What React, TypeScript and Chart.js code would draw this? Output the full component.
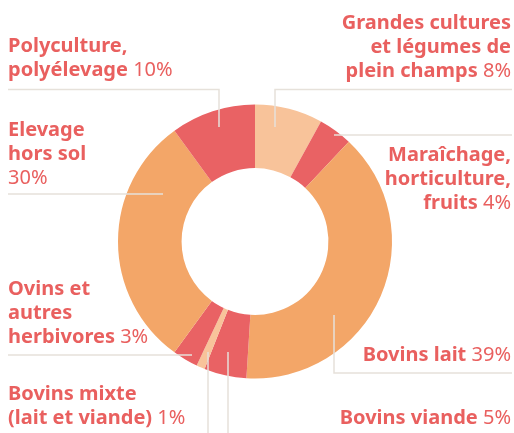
import React, { useEffect, useRef } from "react";
import { Chart, registerables } from "chart.js";

Chart.register(...registerables);

const categories = [
  "Grandes cultures et légumes de plein champs",
  "Maraîchage, horticulture, fruits",
  "Bovins lait",
  "Bovins viande",
  "Bovins mixte (lait et viande)",
  "Ovins et autres herbivores",
  "Elevage hors sol",
  "Polyculture, polyélevage",
];
const values = [8, 4, 39, 5, 1, 3, 30, 10];
const sliceColors = ["#F8C39A", "#E96264", "#F3A668", "#E96264", "#F8C39A", "#E96264", "#F3A668", "#E96264"];

// label text lines: [bold part, light part]
const labelLines: [string, string][][] = [
  [["Grandes cultures", ""], ["et légumes de", ""], ["plein champs ", "8%"]],
  [["Maraîchage,", ""], ["horticulture,", ""], ["fruits ", "4%"]],
  [["Bovins lait ", "39%"]],
  [["Bovins viande ", "5%"]],
  [["Bovins mixte", ""], ["(lait et viande) ", "1%"]],
  [["Ovins et", ""], ["autres", ""], ["herbivores ", "3%"]],
  [["Elevage", ""], ["hors sol", ""], ["", "30%"]],
  [["Polyculture,", ""], ["polyélevage ", "10%"]],
];

// layout of labels: x anchor, align, first line middle y
const labelLayout = [
  { x: 511, align: "right", y: 23 },
  { x: 511, align: "right", y: 155 },
  { x: 511, align: "right", y: 355 },
  { x: 511, align: "right", y: 418 },
  { x: 8, align: "left", y: 394 },
  { x: 8, align: "left", y: 289 },
  { x: 8, align: "left", y: 130 },
  { x: 8, align: "left", y: 46 },
];
const leaderPaths: number[][][] = [
  [[275, 127], [275, 89.5], [512, 89.5]],
  [[334, 135], [512, 135]],
  [[334, 315], [334, 373], [512, 373]],
  [[228, 352], [228, 433]],
  [[208, 352], [208, 433]],
  [[8, 355], [192, 355]],
  [[8, 194], [163, 194]],
  [[8, 89.5], [219, 89.5], [219, 127]],
];

const FONT = "'Noto Sans', sans-serif";
const SIZE = 20;
const LINE_H = 24;
const TEXT_COLOR = "#E9605F";

const labelPlugin = {
  id: "labels",
  afterDraw(chart: any) {
    const ctx = chart.ctx as CanvasRenderingContext2D;
    ctx.save();
    ctx.strokeStyle = "#E6E1DA";
    ctx.lineWidth = 1.5;
    leaderPaths.forEach((p) => {
      ctx.beginPath();
      p.forEach(([x, y], i) => (i ? ctx.lineTo(x, y) : ctx.moveTo(x, y)));
      ctx.stroke();
    });
    ctx.fillStyle = TEXT_COLOR;
    ctx.textBaseline = "middle";
    labelLines.forEach((lines, i) => {
      const L = labelLayout[i];
      lines.forEach(([b, l], j) => {
        const y = L.y + j * LINE_H;
        ctx.font = `700 ${SIZE}px ${FONT}`;
        const wb = ctx.measureText(b).width;
        ctx.font = `400 ${SIZE}px ${FONT}`;
        const wl = ctx.measureText(l).width;
        let x0 = L.align === "right" ? L.x - wb - wl : L.x;
        ctx.textAlign = "left";
        ctx.font = `700 ${SIZE}px ${FONT}`;
        ctx.fillText(b, x0, y);
        ctx.font = `400 ${SIZE}px ${FONT}`;
        ctx.fillText(l, x0 + wb, y);
      });
    });
    ctx.restore();
  },
};

export default function App() {
  const ref = useRef<HTMLCanvasElement>(null);
  useEffect(() => {
    const chart = new Chart(ref.current!, {
      type: "doughnut",
      data: {
        labels: categories,
        datasets: [{ data: values, backgroundColor: sliceColors, borderWidth: 0 }],
      },
      options: {
        animation: false,
        responsive: false,
        cutout: "53.6%",
        layout: { padding: { left: 118, right: 122, top: 104.5, bottom: 54.5 } },
        plugins: { legend: { display: false }, tooltip: { enabled: false } },
      },
      plugins: [labelPlugin],
    });
    return () => chart.destroy();
  }, []);
  return (
    <div style={{ position: "fixed", left: 0, top: 0, width: 514, height: 433, background: "#fff" }}>
      <canvas ref={ref} width={514} height={433} style={{ display: "block" }} />
    </div>
  );
}
